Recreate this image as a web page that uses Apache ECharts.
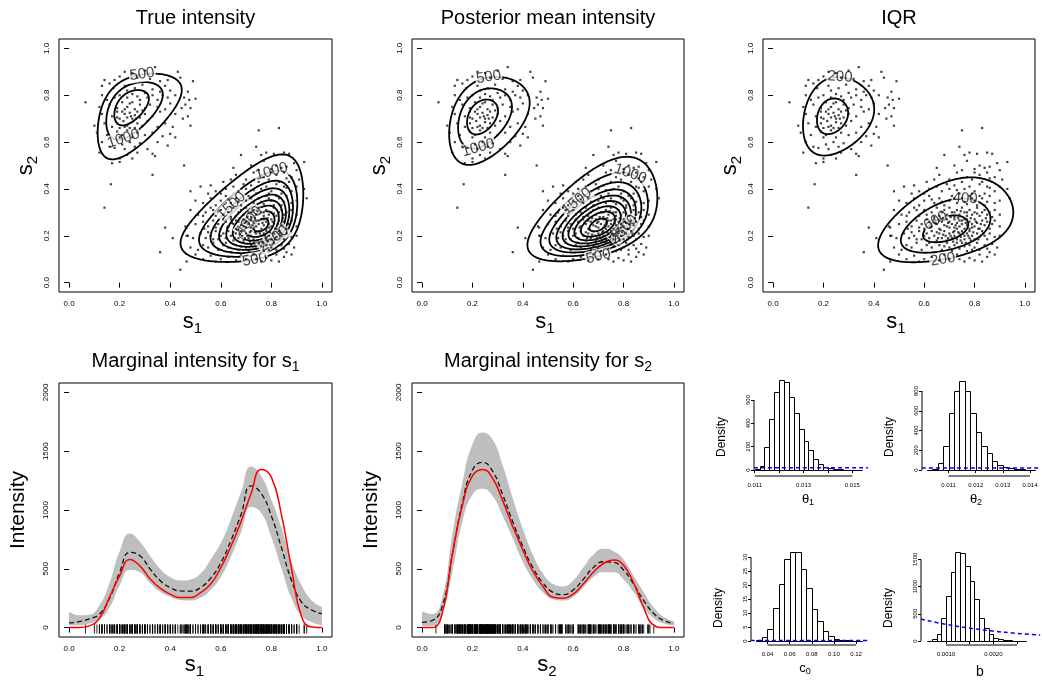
<!DOCTYPE html>
<html>
<head>
<meta charset="utf-8">
<script src="https://cdn.jsdelivr.net/npm/echarts@6/dist/echarts.min.js"></script>
<style>
  html, body { margin: 0; padding: 0; background: #fff; }
  #chart { width: 1042px; height: 680px; }
</style>
</head>
<body>
<div id="chart"></div>
<script>
// ---------------- data ----------------

// observed locations (s1, s2)
const pointsUpperLeft = [
  [0.34,0.92],[0.30,0.905],[0.22,0.90],[0.25,0.895],[0.43,0.90],
  [0.14,0.865],[0.20,0.88],[0.27,0.875],[0.44,0.875],[0.49,0.86],[0.32,0.87],[0.36,0.86],[0.18,0.865],[0.39,0.865],
  [0.13,0.84],[0.16,0.85],[0.175,0.83],[0.22,0.84],[0.26,0.83],[0.29,0.845],[0.33,0.825],[0.38,0.84],[0.40,0.82],[0.47,0.815],[0.23,0.82],[0.36,0.815],
  [0.13,0.80],[0.18,0.79],[0.20,0.80],[0.23,0.79],[0.25,0.805],[0.28,0.78],[0.31,0.79],[0.33,0.80],[0.35,0.78],[0.37,0.80],[0.39,0.79],[0.455,0.79],[0.475,0.78],[0.50,0.785],[0.15,0.78],[0.27,0.795],[0.30,0.81],[0.42,0.80],
  [0.065,0.77],[0.12,0.75],[0.16,0.76],[0.19,0.745],[0.21,0.77],[0.23,0.75],[0.24,0.765],[0.26,0.74],[0.28,0.76],[0.30,0.745],[0.32,0.76],[0.35,0.75],[0.38,0.74],[0.40,0.765],[0.46,0.76],[0.48,0.745],[0.445,0.745],[0.22,0.74],[0.25,0.77],[0.29,0.735],
  [0.13,0.72],[0.17,0.71],[0.19,0.73],[0.20,0.70],[0.22,0.72],[0.23,0.705],[0.24,0.725],[0.25,0.70],[0.26,0.715],[0.27,0.73],[0.28,0.705],[0.30,0.72],[0.33,0.71],[0.36,0.73],[0.42,0.72],[0.45,0.70],[0.47,0.71],[0.21,0.73],[0.245,0.71],[0.265,0.70],[0.19,0.705],
  [0.10,0.67],[0.14,0.68],[0.17,0.665],[0.19,0.68],[0.20,0.66],[0.215,0.69],[0.23,0.67],[0.25,0.685],[0.26,0.66],[0.27,0.68],[0.29,0.67],[0.31,0.69],[0.35,0.665],[0.38,0.68],[0.41,0.665],[0.48,0.67],[0.22,0.665],[0.24,0.66],
  [0.11,0.64],[0.15,0.63],[0.19,0.645],[0.21,0.63],[0.23,0.65],[0.25,0.62],[0.27,0.64],[0.30,0.63],[0.33,0.64],[0.37,0.625],[0.40,0.635],[0.42,0.62],[0.20,0.62],
  [0.13,0.60],[0.16,0.58],[0.18,0.575],[0.21,0.59],[0.24,0.60],[0.26,0.58],[0.28,0.595],[0.31,0.57],[0.35,0.60],[0.39,0.585],[0.22,0.57],
  [0.12,0.555],[0.17,0.51],[0.20,0.53],[0.20,0.515],[0.23,0.545],[0.27,0.555],[0.33,0.55],[0.34,0.54],[0.25,0.53]
];
const pointsLowerRight = [
  [0.75,0.65],[0.83,0.66],
  [0.74,0.58],[0.78,0.555],[0.76,0.545],[0.85,0.555],[0.87,0.55],[0.81,0.55],[0.68,0.545],
  [0.93,0.515],[0.72,0.50],[0.77,0.52],[0.82,0.50],[0.84,0.49],[0.86,0.495],[0.89,0.51],[0.80,0.485],[0.65,0.49],[0.90,0.48],[0.75,0.48],[0.85,0.47],
  [0.66,0.46],[0.70,0.44],[0.73,0.47],[0.77,0.45],[0.79,0.44],[0.82,0.46],[0.83,0.43],[0.86,0.445],[0.88,0.45],[0.91,0.44],[0.61,0.43],[0.75,0.43],[0.80,0.47],[0.87,0.43],[0.64,0.44],
  [0.52,0.41],[0.56,0.415],[0.58,0.39],[0.62,0.40],[0.65,0.41],[0.67,0.39],[0.70,0.40],[0.72,0.415],[0.74,0.38],[0.76,0.40],[0.78,0.41],[0.80,0.39],[0.82,0.42],[0.84,0.38],[0.86,0.405],[0.88,0.39],[0.90,0.41],[0.93,0.40],[0.69,0.42],[0.79,0.38],[0.85,0.41],[0.60,0.38],[0.55,0.38],[0.73,0.395],
  [0.50,0.35],[0.53,0.34],[0.56,0.36],[0.58,0.33],[0.60,0.35],[0.62,0.37],[0.64,0.34],[0.66,0.36],[0.68,0.33],[0.70,0.35],[0.71,0.37],[0.73,0.34],[0.75,0.36],[0.77,0.335],[0.78,0.37],[0.80,0.35],[0.81,0.33],[0.83,0.36],[0.85,0.345],[0.86,0.37],[0.88,0.34],[0.90,0.35],[0.94,0.36],[0.72,0.36],[0.67,0.345],[0.79,0.36],[0.84,0.33],[0.63,0.355],[0.76,0.345],[0.82,0.37],
  [0.48,0.31],[0.51,0.29],[0.54,0.30],[0.56,0.32],[0.58,0.285],[0.60,0.31],[0.61,0.29],[0.63,0.30],[0.65,0.32],[0.66,0.285],[0.68,0.31],[0.69,0.29],[0.70,0.32],[0.71,0.30],[0.72,0.28],[0.73,0.31],[0.74,0.29],[0.75,0.32],[0.76,0.30],[0.77,0.285],[0.78,0.31],[0.79,0.29],[0.80,0.30],[0.81,0.32],[0.82,0.285],[0.83,0.30],[0.84,0.31],[0.85,0.29],[0.86,0.30],[0.87,0.28],[0.88,0.31],[0.90,0.29],[0.64,0.28],[0.67,0.30],[0.72,0.30],[0.745,0.305],[0.77,0.30],[0.81,0.295],[0.57,0.31],[0.53,0.285],
  [0.46,0.24],[0.50,0.25],[0.53,0.26],[0.55,0.24],[0.57,0.265],[0.59,0.25],[0.60,0.23],[0.62,0.26],[0.63,0.24],[0.64,0.27],[0.65,0.25],[0.66,0.23],[0.67,0.26],[0.68,0.245],[0.69,0.27],[0.70,0.235],[0.70,0.26],[0.71,0.25],[0.72,0.27],[0.72,0.235],[0.73,0.255],[0.74,0.24],[0.74,0.265],[0.75,0.25],[0.76,0.23],[0.76,0.27],[0.77,0.245],[0.78,0.26],[0.78,0.23],[0.79,0.25],[0.80,0.27],[0.80,0.24],[0.81,0.255],[0.82,0.23],[0.83,0.265],[0.84,0.245],[0.85,0.26],[0.86,0.23],[0.87,0.25],[0.88,0.265],[0.90,0.24],[0.61,0.27],[0.66,0.265],[0.69,0.24],[0.725,0.245],[0.75,0.265],[0.77,0.27],[0.79,0.235],[0.58,0.235],[0.535,0.23],
  [0.47,0.20],[0.49,0.19],[0.52,0.21],[0.54,0.19],[0.56,0.20],[0.58,0.22],[0.59,0.185],[0.61,0.21],[0.62,0.19],[0.63,0.22],[0.64,0.20],[0.65,0.18],[0.66,0.21],[0.67,0.19],[0.68,0.22],[0.685,0.20],[0.69,0.18],[0.70,0.21],[0.71,0.19],[0.72,0.22],[0.72,0.20],[0.73,0.185],[0.74,0.21],[0.745,0.195],[0.75,0.22],[0.76,0.20],[0.76,0.185],[0.77,0.21],[0.78,0.19],[0.78,0.22],[0.79,0.20],[0.80,0.185],[0.81,0.21],[0.82,0.195],[0.83,0.22],[0.84,0.20],[0.85,0.185],[0.86,0.21],[0.88,0.195],[0.90,0.20],[0.60,0.20],[0.57,0.185],[0.705,0.20],[0.735,0.215],[0.775,0.20],[0.815,0.185],[0.65,0.215],[0.55,0.215],
  [0.48,0.15],[0.51,0.14],[0.53,0.16],[0.55,0.15],[0.57,0.17],[0.59,0.14],[0.61,0.16],[0.63,0.15],[0.64,0.13],[0.66,0.16],[0.67,0.14],[0.69,0.17],[0.70,0.15],[0.71,0.135],[0.72,0.16],[0.74,0.145],[0.75,0.17],[0.76,0.155],[0.77,0.135],[0.78,0.16],[0.80,0.15],[0.81,0.17],[0.82,0.14],[0.84,0.16],[0.85,0.145],[0.87,0.165],[0.89,0.15],[0.73,0.17],[0.79,0.14],[0.62,0.17],[0.68,0.155],[0.86,0.13],
  [0.50,0.12],[0.53,0.10],[0.56,0.115],[0.60,0.10],[0.63,0.11],[0.66,0.095],[0.70,0.10],[0.73,0.12],[0.76,0.09],[0.78,0.105],[0.80,0.095],[0.83,0.09],[0.85,0.11],[0.88,0.12],[0.74,0.10],[0.68,0.12],[0.82,0.12],[0.58,0.09],
  [0.665,0.225],[0.675,0.275],[0.695,0.255],[0.705,0.28],[0.715,0.215],[0.73,0.23],[0.735,0.275],[0.755,0.21],[0.765,0.255],[0.785,0.275],[0.795,0.215],[0.805,0.26],[0.815,0.23],[0.825,0.25],[0.835,0.21],[0.845,0.275],[0.675,0.205],[0.695,0.19],[0.715,0.175],[0.745,0.18],[0.765,0.17],[0.785,0.18],[0.625,0.235],[0.645,0.255],[0.655,0.19]
];
const pointsScattered = [
  [0.14,0.32],[0.165,0.42],[0.33,0.46],[0.36,0.13],[0.38,0.235],[0.41,0.19],
  [0.44,0.055],[0.455,0.50],[0.465,0.09],[0.48,0.39],[0.465,0.20],[0.465,0.235]
];
const points = pointsUpperLeft.concat(pointsLowerRight, pointsScattered);

// intensity surfaces as sums of skewed bumps:
// [mode s1, mode s2, scale s1, scale s2, skew s1, skew s2, shear s1, shear s2, height]
const trueBumps = [
  [0.24, 0.755, 0.085, 0.095,  1.0, -1.0, 0.24, 0.23, 1950],
  [0.76, 0.245, 0.095, 0.090, -1.0,  1.0, 0.22, 0.19, 4700]
];
const meanBumps = [
  [0.235, 0.71, 0.090, 0.110,  0.8, -0.4, 0.15, 0.20, 1850],
  [0.70, 0.245, 0.110, 0.085, -0.3,  1.0, 0.30, 0.20, 4700]
];
const iqrBumps = [
  [0.23, 0.71, 0.100, 0.125, 1.0, 0.0, 0.10, 0.10, 480],
  [0.685, 0.225, 0.160, 0.100, 0.0, 1.0, 0.30, 0.15, 690]
];
const trueLevels = [500, 1000, 1500, 2000, 2500, 3000, 3500, 4000, 4500];
const meanLevels = [500, 1000, 1500, 2000, 2500, 3000, 3500, 4000, 4500];
const iqrLevels = [200, 400, 600];
// contour labels: [level, bump index, direction from the bump mode in degrees]
const trueLabelSpec = [[500,0,70],[1000,0,-100],[500,1,-100],[1000,1,80],[1500,1,145],[4000,1,160],[2500,1,-50]];
const meanLabelSpec = [[500,0,80],[1000,0,-95],[500,1,-90],[1000,1,60],[1500,1,130],[2500,1,-10]];
const iqrLabelSpec = [[200,0,78],[200,1,-95],[400,1,60],[600,1,135]];

// marginal intensities, read at these positions
const margX = [0,0.04,0.08,0.12,0.16,0.20,0.24,0.28,0.32,0.36,0.40,0.44,0.48,0.52,0.56,0.60,0.64,0.68,0.72,0.76,0.80,0.84,0.88,0.92,0.96,1.00];
const s1True  = [0,0,15,80,260,440,580,525,415,335,285,255,255,298,370,510,690,900,1140,1345,1280,960,500,90,5,0];
const s1Mean  = [40,50,75,115,250,470,640,610,500,400,340,312,310,340,420,550,740,960,1205,1140,950,680,400,215,150,118];
const s1Upper = [134,105,110,190,380,650,800,730,610,500,430,400,410,460,580,720,920,1150,1370,1290,1090,850,560,360,230,175];
const s1Lower = [20,20,35,65,170,360,490,470,380,305,262,235,230,255,320,430,600,810,1025,975,770,505,250,100,45,20];
const s2True  = [0,0,120,620,1040,1290,1345,1270,1080,860,660,480,350,258,250,285,370,470,545,575,530,380,170,20,0,0];
const s2Mean  = [45,60,180,620,1060,1340,1405,1330,1130,900,690,510,380,300,280,320,410,510,560,555,490,370,230,120,60,35];
const s2Upper = [140,115,250,790,1230,1560,1660,1600,1380,1100,840,620,460,370,350,400,510,620,670,650,580,440,300,170,90,55];
const s2Lower = [15,15,120,470,900,1130,1180,1120,950,760,560,410,300,240,230,260,340,430,470,470,410,300,170,80,35,18];

// posterior histograms (density per bin)
const theta1Start = 0.0110, theta1Width = 0.0002;
const theta1Density = [12,38,195,440,665,770,750,625,490,350,245,175,95,50,30,15,8,6,4,3,2,2];
const theta2Start = 0.0102, theta2Width = 0.0002;
const theta2Density = [3,15,68,243,574,803,901,800,574,388,246,169,91,51,34,20,10,8,5,3];
const c0Start = 0.030, c0Width = 0.005;
const c0Density = [0.3,1.3,4.4,11.7,20.3,29.3,31.8,31.9,25.9,18.9,11.4,7.2,3.5,1.7,0.7,0.5,0.2,0.1,0.1];
const bStart = 0.0006, bWidth = 0.0001;
const bDensity = [8,35,122,428,832,1273,1640,1616,1377,1108,771,416,233,129,61,37,18,10,5,3,2];
// prior densities
const theta1Prior = 20;
const theta2Prior = 20;
const c0Prior = 0.15;
const bPriorX = [0.00047, 0.0010, 0.0015, 0.0020, 0.0025, 0.00299];
const bPriorY = [404, 305, 236, 182, 140, 110];

// axis ticks
const unitTicks = [0, 0.2, 0.4, 0.6, 0.8, 1.0];
const intensityTicks = [0, 500, 1000, 1500, 2000];
const theta1XTicks = [0.011, 0.012, 0.013, 0.014, 0.015];
const theta1XLabels = [0.011, 0.013, 0.015];
const theta1YTicks = [0, 200, 400, 600];
const theta2XTicks = [0.011, 0.012, 0.013, 0.014];
const theta2YTicks = [0, 200, 400, 600, 800];
const c0XTicks = [0.04, 0.06, 0.08, 0.10, 0.12];
const c0YTicks = [0, 5, 10, 15, 20, 25, 30];
const bXTicks = [0.0010, 0.0015, 0.0020, 0.0025];
const bXLabels = [0.0010, 0.0020];
const bYTicks = [0, 500, 1000, 1500];

// ---------------- helpers ----------------
const FONT = '"Liberation Sans", Arial, Helvetica, sans-serif';
const grids = [], xAxes = [], yAxes = [], series = [], graphics = [];

function addPanel(rect, boxed, xr, yr, xa, ya) {
  const gi = grids.length;
  grids.push({ left: rect[0], top: rect[1], width: rect[2], height: rect[3], show: boxed,
    borderColor: '#000', borderWidth: 1, backgroundColor: 'rgba(0,0,0,0)' });
  xAxes.push(makeAxis(gi, xr, xa, 0));
  yAxes.push(makeAxis(gi, yr, ya, 90));
  return gi;
}
function makeAxis(gi, range, a, rot) {
  return {
    type: 'value', gridIndex: gi, min: range[0], max: range[1],
    axisLine: { show: false }, splitLine: { show: false },
    axisTick: { show: true, inside: false, length: a.tick, customValues: a.ticks, lineStyle: { color: '#000', width: 1 } },
    axisLabel: { show: true, customValues: a.labels || a.ticks, formatter: a.fmt, fontSize: a.fs,
      fontFamily: FONT, color: '#000', margin: a.margin, rotate: rot }
  };
}
function pairs(xs, ys) { return xs.map((x, i) => [x, ys[i]]); }

function skewProfile(z, k) {
  if (Math.abs(k) < 1e-6) return -z * z / 2;
  return (1 - k * z - Math.exp(-k * z)) / (k * k);
}
function fieldAt(bumps, x, y) {
  let v = 0;
  for (const b of bumps) {
    const dx = x - b[0], dy = y - b[1];
    const u = dx - b[6] * dy, w = dy - b[7] * dx;
    const e = skewProfile(u / b[2], b[4]) + skewProfile(w / b[3], b[5]);
    if (e > -40) v += b[8] * Math.exp(e);
  }
  return v;
}
function marching(vals, n, L) {
  const segs = [], h = 1 / n;
  for (let j = 0; j < n; j++) for (let i = 0; i < n; i++) {
    const v0 = vals[j][i], v1 = vals[j][i + 1], v2 = vals[j + 1][i + 1], v3 = vals[j + 1][i];
    const x0 = i * h, y0 = j * h, p = [];
    if ((v0 >= L) !== (v1 >= L)) p[0] = [x0 + h * (L - v0) / (v1 - v0), y0];
    if ((v1 >= L) !== (v2 >= L)) p[1] = [x0 + h, y0 + h * (L - v1) / (v2 - v1)];
    if ((v3 >= L) !== (v2 >= L)) p[2] = [x0 + h * (L - v3) / (v2 - v3), y0 + h];
    if ((v0 >= L) !== (v3 >= L)) p[3] = [x0, y0 + h * (L - v0) / (v3 - v0)];
    const e = [0, 1, 2, 3].filter(k => p[k]);
    if (e.length === 2) segs.push([p[e[0]], p[e[1]]]);
    else if (e.length === 4) {
      const mid = (v0 + v1 + v2 + v3) / 4;
      if ((mid >= L) === (v0 >= L)) { segs.push([p[0], p[1]]); segs.push([p[2], p[3]]); }
      else { segs.push([p[3], p[0]]); segs.push([p[1], p[2]]); }
    }
  }
  return segs;
}
function addContours(gi, bumps, levels) {
  const n = 140, vals = [];
  for (let j = 0; j <= n; j++) { const row = []; for (let i = 0; i <= n; i++) row.push(fieldAt(bumps, i / n, j / n)); vals.push(row); }
  const segsByLevel = levels.map(L => marching(vals, n, L));
  series.push({
    type: 'custom', xAxisIndex: gi, yAxisIndex: gi, z: 2, silent: true, clip: true,
    data: levels.map((L, k) => [0.5, 0.5, k]),
    renderItem: (params, api) => {
      const segs = segsByLevel[api.value(2)];
      if (!segs.length) return { type: 'group', children: [] };
      let d = '';
      for (const s of segs) {
        const a = api.coord(s[0]), b = api.coord(s[1]);
        d += 'M' + a[0].toFixed(2) + ' ' + a[1].toFixed(2) + 'L' + b[0].toFixed(2) + ' ' + b[1].toFixed(2);
      }
      return { type: 'path', shape: { pathData: d },
        style: { fill: null, stroke: '#000', lineWidth: 1.8, lineCap: 'round', lineJoin: 'round' } };
    }
  });
}
function addContourLabels(gi, bumps, spec, rect) {
  const kx = rect[2] / 1.08, ky = rect[3] / 1.08;
  const data = spec.map(([L, bi, ang]) => {
    const b = bumps[bi], a = ang * Math.PI / 180;
    let px = b[0], py = b[1];
    for (let t = 0; t < 0.8; t += 0.001) {
      const x = b[0] + t * Math.cos(a), y = b[1] + t * Math.sin(a);
      if (fieldAt(bumps, x, y) < L) { px = x; py = y; break; }
    }
    const e = 1e-4;
    const gx = (fieldAt(bumps, px + e, py) - fieldAt(bumps, px - e, py)) / (2 * e) / kx;
    const gy = (fieldAt(bumps, px, py + e) - fieldAt(bumps, px, py - e)) / (2 * e) / ky;
    let deg = Math.atan2(gx, -gy) * 180 / Math.PI;
    if (deg > 90) deg -= 180;
    if (deg < -90) deg += 180;
    return { value: [px, py], label: { formatter: String(L), rotate: deg } };
  });
  series.push({
    type: 'scatter', xAxisIndex: gi, yAxisIndex: gi, z: 3, silent: true, symbolSize: 1,
    itemStyle: { color: 'rgba(0,0,0,0)' }, data,
    label: { show: true, position: 'inside', fontSize: 15, fontFamily: FONT, color: '#111',
      backgroundColor: '#fff', padding: [0, 1] }
  });
}
function addPoints(gi) {
  series.push({ type: 'scatter', xAxisIndex: gi, yAxisIndex: gi, z: 4, silent: true,
    symbol: 'rect', symbolSize: 2.2, itemStyle: { color: '#111' }, data: points });
}
function addMarginal(gi, lo, hi, mean, truth, rugIndex) {
  const common = { type: 'line', xAxisIndex: gi, yAxisIndex: gi, silent: true, symbol: 'none', smooth: true };
  series.push(Object.assign({}, common, { z: 1, data: pairs(margX, hi), lineStyle: { opacity: 0 },
    areaStyle: { color: '#bebebe', opacity: 1 } }));
  series.push(Object.assign({}, common, { z: 2, data: pairs(margX, lo), lineStyle: { opacity: 0 },
    areaStyle: { color: '#fff', opacity: 1 } }));
  series.push(Object.assign({}, common, { z: 3, data: pairs(margX, mean),
    lineStyle: { color: '#111', width: 1.3, type: [5, 3] } }));
  series.push(Object.assign({}, common, { z: 4, data: pairs(margX, truth),
    lineStyle: { color: '#ff0000', width: 1.5 } }));
  series.push({ type: 'scatter', xAxisIndex: gi, yAxisIndex: gi, z: 3, silent: true,
    symbol: 'rect', symbolSize: [1, 9], symbolOffset: [0, 1.5], itemStyle: { color: '#000', opacity: 0.85 },
    data: points.map(p => [p[rugIndex], 0]) });
}
function addHist(gi, start, width, dens) {
  series.push({
    type: 'custom', xAxisIndex: gi, yAxisIndex: gi, z: 2, silent: true, clip: false,
    data: dens.map((d, i) => [start + width * i, start + width * (i + 1), d]),
    encode: { x: [0, 1], y: 2 },
    renderItem: (params, api) => {
      const a = api.coord([api.value(0), 0]), b = api.coord([api.value(1), api.value(2)]);
      const x0 = Math.round(a[0]) + 0.5, x1 = Math.round(b[0]) + 0.5;
      const y0 = Math.round(a[1]) + 0.5, y1 = Math.round(b[1]) + 0.5;
      return { type: 'rect', shape: { x: x0, y: y1, width: x1 - x0, height: y0 - y1 },
        style: { fill: '#fff', stroke: '#000', lineWidth: 1 } };
    }
  });
}
function addAxisLines(gi, xr, yr, xTicks, yTicks) {
  const base = { type: 'line', xAxisIndex: gi, yAxisIndex: gi, z: 3, silent: true, symbol: 'none',
    clip: false, lineStyle: { color: '#000', width: 1 } };
  series.push(Object.assign({}, base, { data: [[xTicks[0], yr[0]], [xTicks[xTicks.length - 1], yr[0]]] }));
  series.push(Object.assign({}, base, { data: [[xr[0], yTicks[0]], [xr[0], yTicks[yTicks.length - 1]]] }));
}
function addPrior(gi, data) {
  series.push({ type: 'line', xAxisIndex: gi, yAxisIndex: gi, z: 4, silent: true, symbol: 'none',
    smooth: true, clip: true, data, lineStyle: { color: '#0000ff', width: 1.5, type: [4, 3] } });
}
function text(x, y, str, size, rot, rich) {
  graphics.push({ type: 'text', x: x, y: y, rotation: rot || 0, silent: true,
    style: { text: str, fontSize: size, fontFamily: FONT, fill: '#000',
      align: 'center', verticalAlign: 'middle', textAlign: 'center', textVerticalAlign: 'middle', rich: rich } });
}
function subRich(big, small, lh) {
  return {
    m: { fontSize: big, fontFamily: FONT, fill: '#000', color: '#000', lineHeight: lh, verticalAlign: 'middle' },
    s: { fontSize: small, fontFamily: FONT, fill: '#000', color: '#000', lineHeight: small, verticalAlign: 'bottom' }
  };
}

// ---------------- layout & build ----------------
const unitRange = [-0.04, 1.04];
const unitAxis = { ticks: unitTicks, fmt: v => v.toFixed(1), fs: 8, tick: 5, margin: 8 };

const topRects = [[59, 39, 273, 253], [412, 39, 272, 253], [763, 39, 272, 253]];
const fields = [
  [trueBumps, trueLevels, trueLabelSpec, 'True intensity'],
  [meanBumps, meanLevels, meanLabelSpec, 'Posterior mean intensity'],
  [iqrBumps, iqrLevels, iqrLabelSpec, 'IQR']
];
topRects.forEach((rect, k) => {
  const gi = addPanel(rect, true, unitRange, unitRange, unitAxis, unitAxis);
  addContours(gi, fields[k][0], fields[k][1]);
  addContourLabels(gi, fields[k][0], fields[k][2], rect);
  addPoints(gi);
  const cx = rect[0] + rect[2] / 2;
  text(cx, 18, fields[k][3], 20);
  text(cx - 3, 322, '{m|s}{s|1}', 22, 0, subRich(22, 15, 28));
  text(rect[0] - 33, rect[1] + rect[3] / 2, '{m|s}{s|2}', 22, Math.PI / 2, subRich(22, 15, 28));
});

const intensityAxis = { ticks: intensityTicks, fmt: v => String(v), fs: 8, tick: 5, margin: 9 };
const botRects = [[59, 383, 273, 254], [412, 383, 272, 254]];
const margs = [[s1Lower, s1Upper, s1Mean, s1True, 0, '1'], [s2Lower, s2Upper, s2Mean, s2True, 1, '2']];
botRects.forEach((rect, k) => {
  const gi = addPanel(rect, true, unitRange, [-80, 2080], unitAxis, intensityAxis);
  const m = margs[k];
  addMarginal(gi, m[0], m[1], m[2], m[3], m[4]);
  const cx = rect[0] + rect[2] / 2;
  text(cx, 361, '{t|Marginal intensity for s}{s|' + m[5] + '}', 20, 0, {
    t: { fontSize: 20, fontFamily: FONT, fill: '#000', color: '#000', lineHeight: 26, verticalAlign: 'middle' },
    s: { fontSize: 14, fontFamily: FONT, fill: '#000', color: '#000', lineHeight: 14, verticalAlign: 'bottom' } });
  text(cx - 1, 665, '{m|s}{s|' + m[5] + '}', 22, 0, subRich(22, 15, 28));
  text(rect[0] - 41, 510, 'Intensity', 21, Math.PI / 2);
});

// histograms
const histSpecs = [
  { rect: [754, 377, 114, 99], xr: [0.01097, 0.01564], yr: [-51.4, 797],
    xa: { ticks: theta1XTicks, labels: theta1XLabels, fmt: v => v.toFixed(3) }, yt: theta1YTicks,
    start: theta1Start, width: theta1Width, dens: theta1Density, prior: theta1Prior, name: ['θ', '1'] },
  { rect: [922, 377, 118, 99], xr: [0.01002, 0.01437], yr: [-60.8, 941.8],
    xa: { ticks: theta2XTicks, fmt: v => v.toFixed(3) }, yt: theta2YTicks,
    start: theta2Start, width: theta2Width, dens: theta2Density, prior: theta2Prior, name: ['θ', '2'] },
  { rect: [751, 548, 117, 97], xr: [0.0251, 0.1308], yr: [-1.43, 33.33],
    xa: { ticks: c0XTicks, fmt: v => v.toFixed(2) }, yt: c0YTicks,
    start: c0Start, width: c0Width, dens: c0Density, prior: c0Prior, name: ['c', '0'] },
  { rect: [921, 548, 119, 97], xr: [0.000471, 0.002986], yr: [-73.5, 1708],
    xa: { ticks: bXTicks, labels: bXLabels, fmt: v => v.toFixed(4) }, yt: bYTicks,
    start: bStart, width: bWidth, dens: bDensity, prior: null, name: ['b', ''] }
];
histSpecs.forEach((h, k) => {
  const xa = Object.assign({ fs: 6, tick: 3, margin: 6 }, h.xa);
  const ya = { ticks: h.yt, fmt: v => String(v), fs: 6, tick: 3, margin: 3 };
  const gi = addPanel(h.rect, false, h.xr, h.yr, xa, ya);
  addHist(gi, h.start, h.width, h.dens);
  addAxisLines(gi, h.xr, h.yr, h.xa.ticks, h.yt);
  if (h.prior !== null) addPrior(gi, [[h.xr[0], h.prior], [h.xr[1], h.prior]]);
  else addPrior(gi, pairs(bPriorX, bPriorY));
  const cx = h.rect[0] + 54, bottom = h.rect[1] + h.rect[3];
  text(h.rect[0] - 32, h.rect[1] + 60, 'Density', 12, Math.PI / 2);
  if (h.name[1]) text(cx, bottom + 23, '{m|' + h.name[0] + '}{s|' + h.name[1] + '}', 13, 0, subRich(13, 9, 16));
  else text(cx + 5, bottom + 27, h.name[0], 14);
});

const chart = echarts.init(document.getElementById('chart'), null, { renderer: 'canvas', width: 1042, height: 680 });
chart.setOption({
  animation: false,
  backgroundColor: '#fff',
  grid: grids,
  xAxis: xAxes,
  yAxis: yAxes,
  series: series,
  graphic: { elements: graphics }
});
</script>
</body>
</html>
